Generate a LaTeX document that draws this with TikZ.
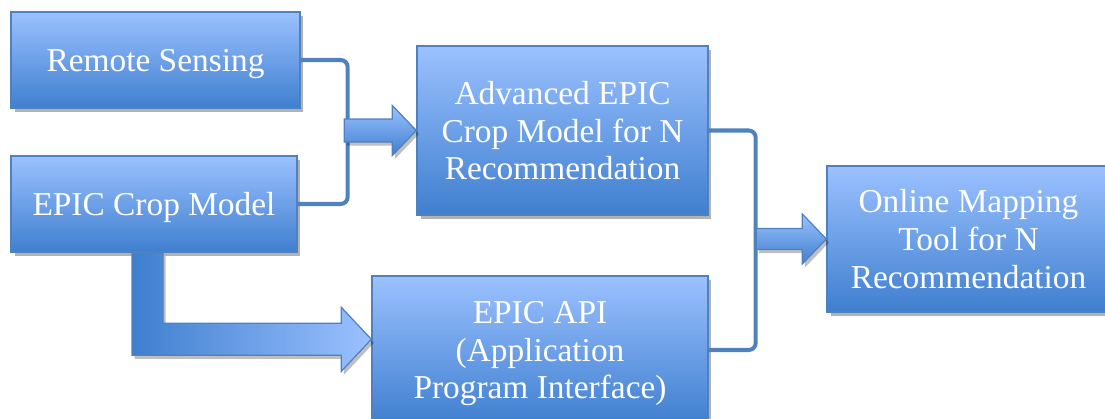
\documentclass[tikz,border=0pt]{standalone}
\usepackage{fontspec}
\setmainfont{Liberation Serif}
\usepackage{tikz}
\usetikzlibrary{calc}
\usetikzlibrary{shadows}

\definecolor{boxlight}{HTML}{9BC1FF}
\definecolor{boxdark}{HTML}{3F7FCF}
\definecolor{boxline}{HTML}{4F81BD}

\begin{document}
\begin{tikzpicture}[x=0.02cm,y=-0.02cm,
    box/.style={draw=boxline,line width=0.8pt,top color=boxlight,bottom color=boxdark,
        text=white,align=center,inner sep=0pt,text depth=0pt,font=\fontsize{19}{21.5}\selectfont,
        drop shadow={shadow xshift=2pt,shadow yshift=-2.5pt,opacity=0.3,fill=black}},
    bracket/.style={draw=boxline,line width=2.3pt,rounded corners=4pt},
    fatshadow/.style={drop shadow={shadow xshift=1.5pt,shadow yshift=-2pt,opacity=0.25,fill=black}},
    fat/.style={draw=boxline,line width=0.7pt,top color=boxlight,bottom color=boxdark,fatshadow},
    fatside/.style={draw=boxline,line width=0.7pt,left color=boxdark,right color=boxlight,fatshadow}]
                \useasboundingbox (0,0) rectangle (1105,419);
                \clip (0,0) rectangle (1105,419);

                \node[box,minimum width=5.78cm,minimum height=1.92cm] (rs) at (155.5,60) {Remote Sensing};
                \node[box,minimum width=5.72cm,minimum height=1.92cm] (ecm) at (154,204) {EPIC Crop Model};
                \node[box,minimum width=5.82cm,minimum height=3.38cm] (adv) at (562.5,130.5) {Advanced EPIC\\Crop Model for N\\Recommendation};
                \node[box,minimum width=6.72cm,minimum height=2.96cm] (api) at (540,350) {EPIC API\\(Application\\Program Interface)};
                \node[box,minimum width=5.66cm,minimum height=2.92cm] (onl) at (968.5,239) {Online Mapping\\Tool for N\\Recommendation};

                \draw[bracket] (rs.east) -- ++(47,0) |- (ecm.east);
                \draw[bracket] (adv.east) -- ++(47,0) |- (api.east);

                \coordinate (t1) at (adv.west);
                \coordinate (t2) at (onl.west);
                \coordinate (t3) at ($(api.north west)+(0,64)$);

                \path[fat] ($(t1)+(-72,-11.5)$) -- ($(t1)+(-24,-11.5)$) -- ($(t1)+(-24,-25)$) -- (t1)
                    -- ($(t1)+(-24,25)$) -- ($(t1)+(-24,11.5)$) -- ($(t1)+(-72,11.5)$) -- cycle;
                \path[fat] ($(t2)+(-70,-10.5)$) -- ($(t2)+(-24,-10.5)$) -- ($(t2)+(-24,-25)$) -- (t2)
                    -- ($(t2)+(-24,25)$) -- ($(t2)+(-24,10.5)$) -- ($(t2)+(-70,10.5)$) -- cycle;
                \path[fatside]
                    ($(ecm.south)+(-22,0)$) -- ($(ecm.south)+(9,0)$) |- ($(t3)+(-30,-16)$)
                    -- ($(t3)+(-30,-32)$) -- (t3) -- ($(t3)+(-30,32)$) -- ($(t3)+(-30,16)$)
                    -| ($(ecm.south)+(-22,0)$) -- cycle;
            \end{tikzpicture}
\end{document}
